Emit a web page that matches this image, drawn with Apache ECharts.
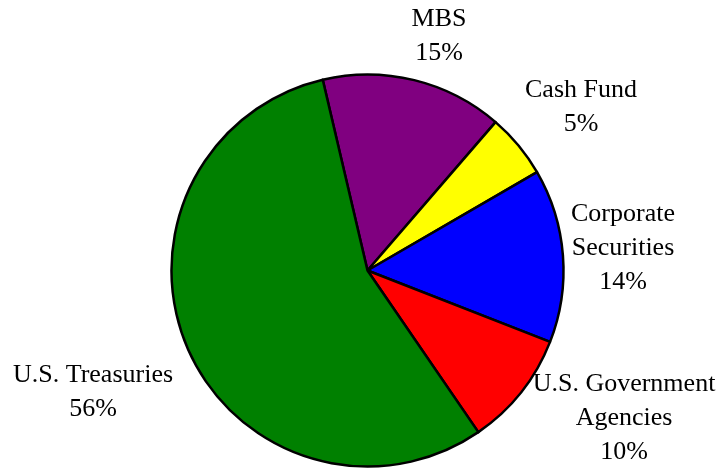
<!DOCTYPE html>
<html>
<head>
<meta charset="utf-8">
<script src="https://cdn.jsdelivr.net/npm/echarts@6/dist/echarts.min.js"></script>
<style>
  html, body { margin: 0; padding: 0; background: #fff; }
  #chart { width: 721px; height: 468px; }
</style>
</head>
<body>
<div id="chart"></div>
<script>
// slices in clockwise order, starting at the MBS / Treasuries edge
const categories = ['MBS', 'Cash Fund', 'Corporate\nSecurities', 'U.S. Government\nAgencies', 'U.S. Treasuries']
// shares; labels show them rounded
const shares = [15, 5.3, 14.3, 9.5, 55.9]
const colors = ['#800080', '#ffff00', '#0000ff', '#ff0000', '#008000']

// label block centres (px), same order as categories
const labelPos = [[439, 36], [581, 107], [623, 248], [624, 418], [93, 392]]

const chart = echarts.init(document.getElementById('chart'))

chart.setOption({
  backgroundColor: '#fff',
  animation: false,
  series: [
    {
      type: 'pie',
      center: [367.5, 270.5],
      radius: 196,
      startAngle: 103.2,
      clockwise: true,
      avoidLabelOverlap: false,
      data: categories.map((name, i) => ({
        name,
        value: shares[i],
        itemStyle: { color: colors[i] },
      })),
      itemStyle: { borderColor: '#000', borderWidth: 2.5 },
      emphasis: { disabled: true },
      label: {
        show: true,
        position: 'outside',
        formatter: (p) => p.name + '\n' + Math.round(p.value) + '%',
        color: '#000',
        fontFamily: 'Liberation Serif',
        fontSize: 26,
        lineHeight: 34,
        align: 'center',
      },
      labelLine: { show: false },
      labelLayout: (params) => ({
        x: labelPos[params.dataIndex][0],
        y: labelPos[params.dataIndex][1],
        align: 'center',
        verticalAlign: 'middle',
      }),
    },
  ],
})
</script>
</body>
</html>
